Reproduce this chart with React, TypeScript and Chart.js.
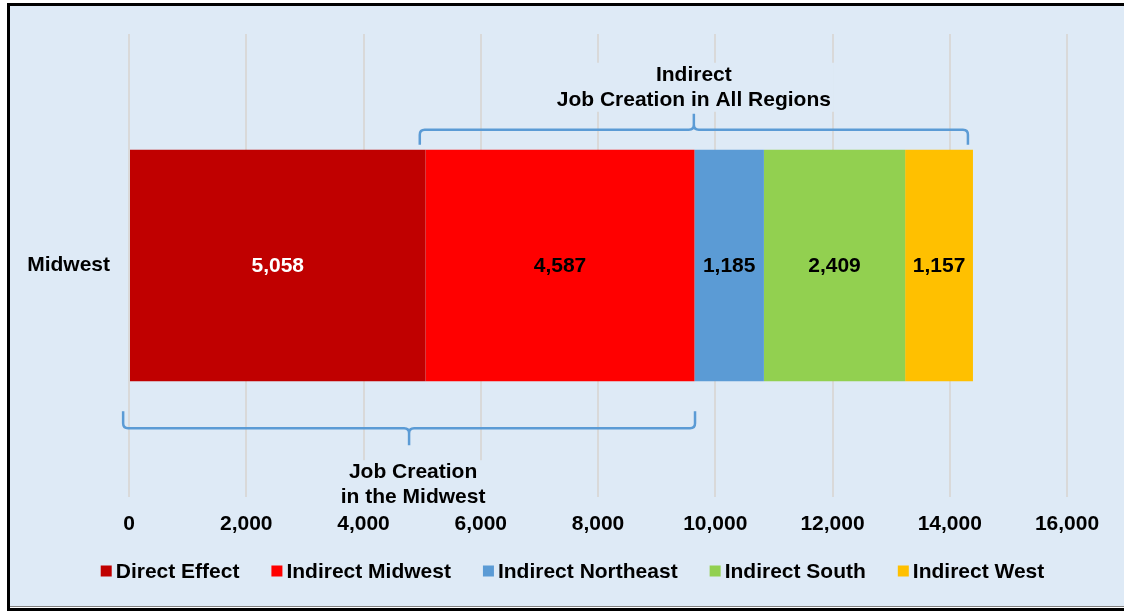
import { useEffect, useRef } from "react";
import { Chart, registerables } from "chart.js";

Chart.register(...registerables);

const categories = ["Midwest"];
const seriesNames = ["Direct Effect", "Indirect Midwest", "Indirect Northeast", "Indirect South", "Indirect West"];
const directEffect = [5058];
const indirectMidwest = [4587];
const indirectNortheast = [1185];
const indirectSouth = [2409];
const indirectWest = [1157];
const seriesValues = [directEffect, indirectMidwest, indirectNortheast, indirectSouth, indirectWest];
const seriesColors = ["#C00000", "#FF0000", "#5B9BD5", "#92D050", "#FFC000"];
const valueLabelColors = ["#FFFFFF", "#000000", "#000000", "#000000", "#000000"];
const xTickValues = [0, 2000, 4000, 6000, 8000, 10000, 12000, 14000, 16000];
const braceTexts = [
  ["Indirect", "Job Creation in All Regions"],
  ["Job Creation", "in the Midwest"],
];
const braceFrom = [4960, -100];
const braceTo = [14310, 9655];

const FONT_FAMILY = "'Liberation Sans', Arial, sans-serif";
const FONT_SIZE = 21;
const BG = "#DEEAF6";
const BRACE_COLOR = "#5B9BD5";

function fmt(v: number) {
  return v.toLocaleString("en-US");
}

function drawBrace(ctx: CanvasRenderingContext2D, x1: number, x2: number, yLine: number, yEnd: number, yTip: number) {
  const xm = (x1 + x2) / 2;
  const r = 5;
  const d = yEnd > yLine ? 1 : -1;
  ctx.beginPath();
  ctx.moveTo(x1, yEnd);
  ctx.lineTo(x1, yLine + d * r);
  ctx.quadraticCurveTo(x1, yLine, x1 + r, yLine);
  ctx.lineTo(xm - r, yLine);
  ctx.quadraticCurveTo(xm, yLine, xm, yLine - d * r);
  ctx.lineTo(xm, yTip);
  ctx.moveTo(x2, yEnd);
  ctx.lineTo(x2, yLine + d * r);
  ctx.quadraticCurveTo(x2, yLine, x2 - r, yLine);
  ctx.lineTo(xm + r, yLine);
  ctx.quadraticCurveTo(xm, yLine, xm, yLine - d * r);
  ctx.stroke();
}

const framePlugin = {
  id: "frame",
  beforeDraw(chart: any) {
    const ctx = chart.ctx as CanvasRenderingContext2D;
    const w = chart.width;
    const h = chart.height;
    ctx.save();
    ctx.fillStyle = BG;
    ctx.fillRect(10, 6, w - 10, 600);
    ctx.fillStyle = "#000000";
    ctx.fillRect(7, 3, 3, h - 3);
    ctx.fillRect(7, 3, w - 7, 3);
    ctx.fillStyle = "#808080";
    ctx.fillRect(10, 606, w - 10, 1);
    ctx.fillStyle = "#000000";
    ctx.fillRect(7, 608, w - 7, 3);
    ctx.restore();
  },
};

const overlayPlugin = {
  id: "overlay",
  afterDatasetsDraw(chart: any) {
    const ctx = chart.ctx as CanvasRenderingContext2D;
    const xs = chart.scales.x;
    ctx.save();
    // value labels
    ctx.font = `bold ${FONT_SIZE}px ${FONT_FAMILY}`;
    ctx.textAlign = "center";
    ctx.textBaseline = "middle";
    let barTop = 0;
    let barBottom = 0;
    chart.data.datasets.forEach((ds: any, i: number) => {
      const meta = chart.getDatasetMeta(i);
      meta.data.forEach((el: any, j: number) => {
        const cx = (el.x + el.base) / 2;
        barTop = el.y - el.height / 2;
        barBottom = el.y + el.height / 2;
        ctx.fillStyle = valueLabelColors[i];
        ctx.fillText(fmt(ds.data[j]), cx, el.y + 1);
      });
    });

    // braces
    ctx.strokeStyle = BRACE_COLOR;
    ctx.lineWidth = 2.5;
    ctx.lineCap = "butt";
    ctx.lineJoin = "round";
    const t1 = xs.getPixelForValue(braceFrom[0]);
    const t2 = xs.getPixelForValue(braceTo[0]);
    drawBrace(ctx, t1, t2, barTop - 20, barTop - 5, barTop - 36);
    const b1 = xs.getPixelForValue(braceFrom[1]);
    const b2 = xs.getPixelForValue(braceTo[1]);
    drawBrace(ctx, b1, b2, barBottom + 47, barBottom + 30, barBottom + 64);

    // brace texts
    const drawTextBlock = (lines: string[], cx: number, ys: number[]) => {
      ctx.font = `bold ${FONT_SIZE}px ${FONT_FAMILY}`;
      const wMax = Math.max(...lines.map((l) => ctx.measureText(l).width));
      ctx.fillStyle = BG;
      ctx.fillRect(cx - wMax / 2 - 3, ys[0] - 12, wMax + 6, ys[ys.length - 1] - ys[0] + 24);
      ctx.fillStyle = "#000000";
      ctx.textAlign = "center";
      ctx.textBaseline = "middle";
      lines.forEach((l, k) => ctx.fillText(l, cx, ys[k]));
    };
    drawTextBlock(braceTexts[0], (t1 + t2) / 2, [barTop - 75, barTop - 50]);
    drawTextBlock(braceTexts[1], (b1 + b2) / 2 + 4, [barBottom + 91, barBottom + 116]);

    // legend
    ctx.font = `bold ${FONT_SIZE}px ${FONT_FAMILY}`;
    const box = 11;
    const gapBoxText = 4;
    const gapItems = 32;
    const widths = chart.data.datasets.map((ds: any) => box + gapBoxText + ctx.measureText(ds.label).width);
    const total = widths.reduce((a: number, b: number) => a + b, 0) + gapItems * (widths.length - 1);
    let x = 572.5 - total / 2;
    const ly = 571;
    ctx.textAlign = "left";
    ctx.textBaseline = "middle";
    chart.data.datasets.forEach((ds: any, i: number) => {
      ctx.fillStyle = ds.backgroundColor;
      ctx.fillRect(x, ly - 5.5, box, box);
      ctx.fillStyle = "#000000";
      ctx.fillText(ds.label, x + box + gapBoxText, ly + 1);
      x += widths[i] + gapItems;
    });
    ctx.restore();
  },
};

export default function App() {
  const ref = useRef<HTMLCanvasElement | null>(null);

  useEffect(() => {
    if (!ref.current) return;
    const font = { family: FONT_FAMILY, size: FONT_SIZE, weight: "bold" as const };
    const chart = new Chart(ref.current, {
      type: "bar",
      data: {
        labels: categories,
        datasets: seriesNames.map((name, i) => ({
          label: name,
          data: seriesValues[i],
          backgroundColor: seriesColors[i],
          borderWidth: 0,
          barPercentage: 1,
          categoryPercentage: 0.5,
        })),
      },
      options: {
        indexAxis: "y",
        responsive: false,
        animation: false,
        layout: { padding: { top: 34, right: 57, bottom: 74, left: 0 } },
        plugins: {
          legend: { display: false },
          tooltip: { enabled: false },
          title: { display: false },
        },
        scales: {
          x: {
            stacked: true,
            min: 0,
            max: 16000,
            afterBuildTicks: (scale: any) => {
              scale.ticks = xTickValues.map((v) => ({ value: v }));
            },
            ticks: {
              font,
              color: "#000000",
              padding: 15,
              autoSkip: false,
              maxRotation: 0,
              callback: (v: any) => fmt(Number(v)),
            },
            grid: { color: "#D9D9D9", lineWidth: 2, drawTicks: false },
            border: { display: false },
            afterFit: (scale: any) => {
              scale.height = 40;
            },
          },
          y: {
            stacked: true,
            ticks: { font, color: "#000000", padding: 19 },
            grid: { display: false, drawTicks: false },
            border: { display: false },
            afterFit: (scale: any) => {
              scale.width = 129;
            },
          },
        },
      },
      plugins: [framePlugin, overlayPlugin],
    });
    return () => chart.destroy();
  }, []);

  return (
    <canvas
      ref={ref}
      width={1124}
      height={611}
      style={{ position: "fixed", left: 0, top: 0, width: 1124, height: 611, display: "block" }}
    />
  );
}
